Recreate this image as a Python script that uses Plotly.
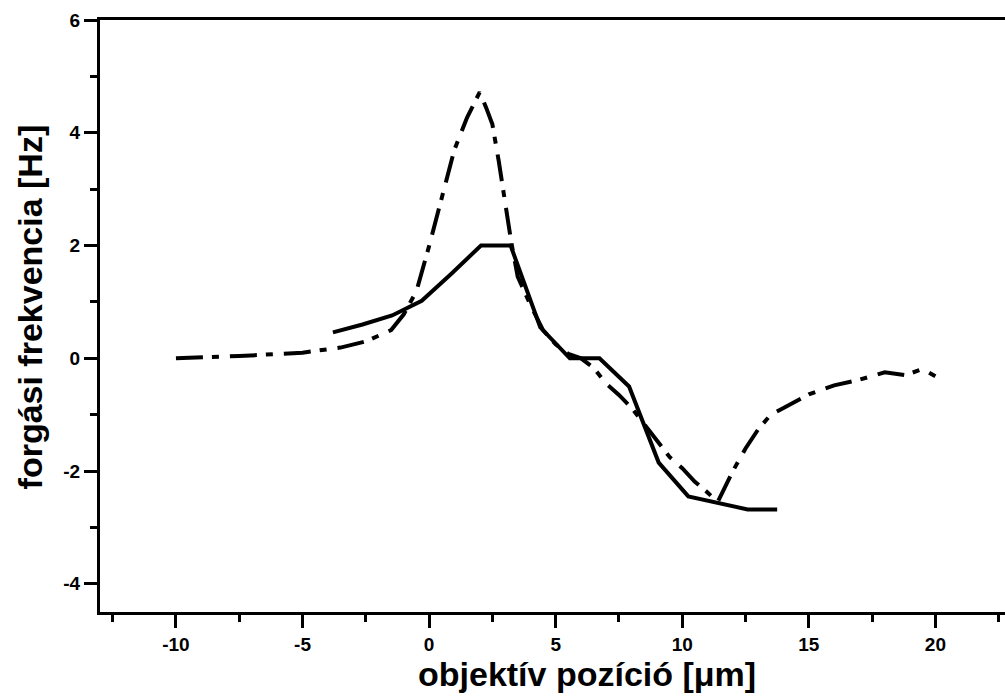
import plotly.graph_objects as go

# Solid curve: measured rotation frequency vs. objective position
pos_solid = [-3.8, -2.63, -1.46, -0.29, 0.88, 2.05, 3.22, 4.39, 5.56, 6.73,
             7.9, 9.07, 10.24, 11.41, 12.58, 13.75]
freq_solid = [0.46, 0.60, 0.76, 1.02, 1.50, 2.0, 2.0, 0.55, 0.0, 0.0,
              -0.5, -1.85, -2.45, -2.57, -2.68, -2.68]

# Dash-dot curve: computed rotation frequency vs. objective position
pos_dashdot = [-10, -7.5, -5, -3.5, -2.5, -1.5, -1.0, -0.5, 0, 0.5, 1.0, 1.5,
               2.0, 2.25, 2.5, 2.75, 3.0, 3.25, 3.5, 4.0, 4.5, 5.0, 5.5, 6.0,
               6.5, 7.0, 7.5, 8.0, 8.5, 9.0, 9.5, 10.0, 10.5, 11.0, 11.4,
               12.0, 12.5, 13.0, 13.5, 14.0, 15.0, 16.0, 17.0, 18.0, 18.8,
               19.5, 20.0]
freq_dashdot = [0.0, 0.04, 0.1, 0.19, 0.3, 0.5, 0.78, 1.19, 1.99, 2.84, 3.7,
                4.27, 4.72, 4.45, 4.15, 3.5, 2.76, 2.05, 1.45, 0.95, 0.5, 0.25,
                0.08, 0.0, -0.17, -0.45, -0.65, -0.88, -1.17, -1.47, -1.75,
                -1.95, -2.19, -2.38, -2.55, -2.0, -1.6, -1.26, -1.0, -0.88,
                -0.64, -0.48, -0.38, -0.25, -0.3, -0.19, -0.32]

# Tick positions and labels (plain hyphen as minus sign)
x_tickvals = [-10, -5, 0, 5, 10, 15, 20]
x_ticktext = ["-10", "-5", "0", "5", "10", "15", "20"]
y_tickvals = [-4, -2, 0, 2, 4, 6]
y_ticktext = ["-4", "-2", "0", "2", "4", "6"]

x_title = "objektív pozíció [μm]"
y_title = "forgási frekvencia [Hz]"

FONT = "Liberation Sans"

fig = go.Figure()
fig.add_trace(go.Scatter(x=pos_dashdot, y=freq_dashdot, mode="lines",
                         line=dict(color="black", width=4,
                                   dash="27px,9px,7px,11px")))
fig.add_trace(go.Scatter(x=pos_solid, y=freq_solid, mode="lines",
                         line=dict(color="black", width=4)))

axis_common = dict(
    showgrid=False, zeroline=False, showline=True, linecolor="black",
    linewidth=3, ticks="outside", tickcolor="black", tickwidth=3, ticklen=13,
    tickfont=dict(family=FONT, size=19, color="black", weight="bold"),
)

fig.update_xaxes(range=[-13, 22.75], tickmode="array", tickvals=x_tickvals,
                 ticktext=x_ticktext, mirror=True,
                 minor=dict(ticks="outside", dtick=2.5, tick0=0, ticklen=7,
                            tickwidth=3, tickcolor="black"),
                 **axis_common)
fig.update_yaxes(range=[-4.5, 6], tickmode="array", tickvals=y_tickvals,
                 ticktext=y_ticktext, mirror=False,
                 minor=dict(ticks="outside", dtick=1, tick0=0, ticklen=7,
                            tickwidth=3, tickcolor="black"),
                 **axis_common)

fig.add_annotation(text=x_title, xref="paper", yref="paper", x=0.538,
                   y=-0.1047, xanchor="center", yanchor="middle",
                   showarrow=False,
                   font=dict(family=FONT, size=34, color="black",
                             weight="bold"))
fig.add_annotation(text=y_title, xref="paper", yref="paper", x=-0.077,
                   y=0.515, xanchor="center", yanchor="middle",
                   textangle=-90, showarrow=False,
                   font=dict(family=FONT, size=34, color="black",
                             weight="bold"))

fig.update_layout(width=1005, height=697, showlegend=False,
                  paper_bgcolor="white", plot_bgcolor="white",
                  margin=dict(l=100, r=0, t=20, b=85))

fig.write_html("out.html")
